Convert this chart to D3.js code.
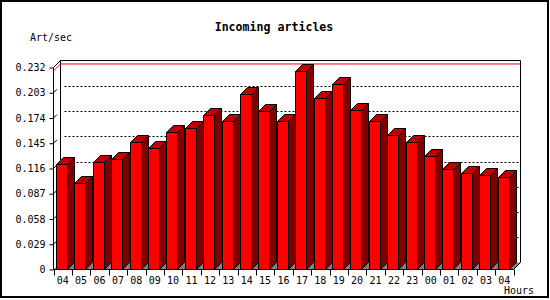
<!DOCTYPE html>
<html>
<head>
  <meta charset="utf-8">
  <script src="https://cdn.jsdelivr.net/npm/d3@7"></script>
  <style>
    body { margin:0; background:#fff; }
    svg { display:block; }
    text { font-family:"DejaVu Sans Mono", monospace; fill:#000; }
  </style>
</head>
<body>
<script>
var hours = ["04","05","06","07","08","09","10","11","12","13","14","15","16",
             "17","18","19","20","21","22","23","00","01","02","03","04"];
var artPerSec = [0.121, 0.099, 0.124, 0.127, 0.147, 0.140, 0.158, 0.162, 0.177,
                 0.170, 0.202, 0.182, 0.171, 0.228, 0.197, 0.213, 0.183, 0.170,
                 0.155, 0.146, 0.130, 0.116, 0.111, 0.109, 0.106];
var yTicks = [0, 0.029, 0.058, 0.087, 0.116, 0.145, 0.174, 0.203, 0.232];
var yTickLabels = ["0","0.029","0.058","0.087","0.116","0.145","0.174","0.203","0.232"];

var width = 550, height = 300;
var depth = 7;   // 3d offset, right and up

var x = d3.scaleBand()
  .domain(d3.range(hours.length))
  .range([53.5, 513.5]);
var y = d3.scaleLinear()
  .domain([0, 0.232])
  .range([269.5, 67.5]);

var svg = d3.select("body").append("svg")
  .attr("width", width)
  .attr("height", height);

// outer frame
svg.append("rect")
  .attr("x", 1).attr("y", 1)
  .attr("width", 547).attr("height", 296)
  .attr("fill", "#fff").attr("stroke", "#000").attr("stroke-width", 2);

var x0 = x.range()[0], x1 = x.range()[1];
var yBot = y(0), yTop = y(0.232);

// floor
svg.append("path")
  .attr("d", "M" + x0 + "," + yBot + "L" + x1 + "," + yBot +
             "L" + (x1 + depth) + "," + (yBot - depth) + "L" + (x0 + depth) + "," + (yBot - depth) + "Z")
  .attr("fill", "#808080");

// back wall
svg.append("path")
  .attr("d", "M" + (x0 + depth) + "," + (yBot - depth) + "V" + (yTop - depth) +
             "H" + (x1 + depth) + "V" + (yBot - depth))
  .attr("fill", "none").attr("stroke", "#000");

// dotted grid on back wall
svg.selectAll(".grid")
  .data(yTicks.slice(1, -1))
  .enter().append("line")
  .attr("x1", x0 + depth + 4).attr("x2", x1 + depth)
  .attr("y1", function(d) { return Math.round(y(d) - depth) + 0.5; })
  .attr("y2", function(d) { return Math.round(y(d) - depth) + 0.5; })
  .attr("stroke", "#000").attr("stroke-dasharray", "2,2");

// short slanted ticks from the front axis
svg.selectAll(".slant")
  .data(yTicks.slice(1, -1))
  .enter().append("line")
  .attr("x1", x0).attr("x2", x0 + 3.5)
  .attr("y1", function(d) { return y(d); })
  .attr("y2", function(d) { return y(d) - 3.5; })
  .attr("stroke", "#000");

// red max line
var maxV = d3.max(artPerSec);
svg.append("path")
  .attr("d", "M" + x0 + "," + y(maxV) + "L" + (x0 + depth) + "," + (y(maxV) - depth) +
             "H" + (x1 + depth))
  .attr("fill", "none").attr("stroke", "#ff0000");

// bars
var bar = svg.selectAll(".bar")
  .data(artPerSec)
  .enter().append("g");

function bx(i) { return Math.floor(x(i) + 3) + 0.5; }
var bw = 11;

bar.append("path")   // side
  .attr("d", function(d, i) {
    var l = bx(i) + bw, t = Math.round(y(d)) + 0.5;
    return "M" + l + "," + t + "L" + (l + depth) + "," + (t - depth) +
           "V" + (yBot - depth) + "L" + l + "," + yBot + "Z";
  })
  .attr("fill", "#800000").attr("stroke", "#000");

bar.append("path")   // top
  .attr("d", function(d, i) {
    var l = bx(i), t = Math.round(y(d)) + 0.5;
    return "M" + l + "," + t + "L" + (l + depth) + "," + (t - depth) +
           "H" + (l + bw + depth) + "L" + (l + bw) + "," + t + "Z";
  })
  .attr("fill", "#c00000").attr("stroke", "#000");

bar.append("rect")   // front
  .attr("x", function(d, i) { return bx(i); })
  .attr("y", function(d) { return Math.round(y(d)) + 0.5; })
  .attr("width", bw)
  .attr("height", function(d) { return yBot - (Math.round(y(d)) + 0.5); })
  .attr("fill", "#ff0000").attr("stroke", "#000");

// front axes
svg.append("path")
  .attr("d", "M" + (x0 + depth) + "," + (yTop - depth) + "L" + x0 + "," + yTop +
             "V" + yBot + "H" + x1 + "L" + (x1 + depth) + "," + (yBot - depth))
  .attr("fill", "none").attr("stroke", "#000");

// y axis ticks + labels
var yAxis = svg.append("g")
  .attr("transform", "translate(" + x0 + ",0)")
  .call(d3.axisLeft(y).tickValues(yTicks).tickSize(4).tickPadding(4)
    .tickFormat(function(d, i) { return yTickLabels[i]; }));
yAxis.select(".domain").remove();
yAxis.selectAll("text").style("font-family", "DejaVu Sans Mono").style("font-size", "10px");

// x axis ticks at slot edges, labels centred
svg.selectAll(".xtick")
  .data(hours)
  .enter().append("line")
  .attr("x1", function(d, i) { return Math.round(x(i)) + 0.5; })
  .attr("x2", function(d, i) { return Math.round(x(i)) + 0.5; })
  .attr("y1", yBot).attr("y2", yBot + 6)
  .attr("stroke", "#000");
svg.append("line")
  .attr("x1", Math.round(x1) + 0.5).attr("x2", Math.round(x1) + 0.5)
  .attr("y1", yBot).attr("y2", yBot + 6)
  .attr("stroke", "#000");

svg.selectAll(".xlabel")
  .data(hours)
  .enter().append("text")
  .attr("x", function(d, i) { return x(i) + x.bandwidth() / 2; })
  .attr("y", 284)
  .attr("text-anchor", "middle")
  .style("font-size", "10px")
  .text(function(d) { return d; });

// titles
svg.append("text")
  .attr("x", 274).attr("y", 31)
  .attr("text-anchor", "middle")
  .style("font-size", "11.6px").style("font-weight", "bold")
  .text("Incoming articles");
svg.append("text")
  .attr("x", 30).attr("y", 41)
  .style("font-size", "10px")
  .text("Art/sec");
svg.append("text")
  .attr("x", 504).attr("y", 294)
  .style("font-size", "10px")
  .text("Hours");
</script>
</body>
</html>
